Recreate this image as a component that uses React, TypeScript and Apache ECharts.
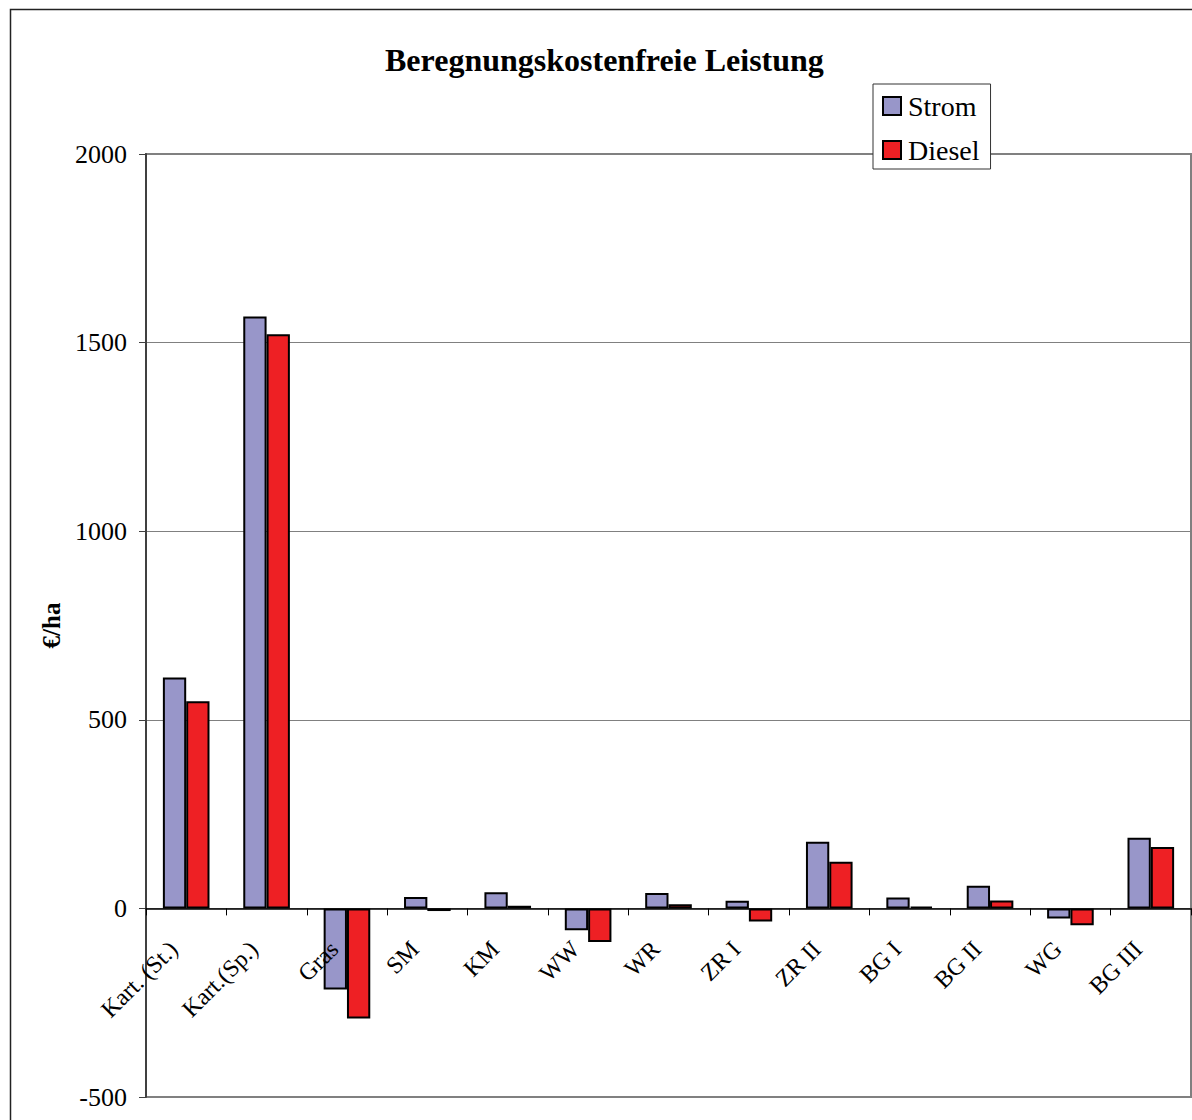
import React, { useEffect, useRef } from "react";
import * as echarts from "echarts";

// Crop / scenario categories along the x axis
const categories = [
  "Kart. (St.)",
  "Kart.(Sp.)",
  "Gras",
  "SM",
  "KM",
  "WW",
  "WR",
  "ZR I",
  "ZR II",
  "BG I",
  "BG II",
  "WG",
  "BG III",
];

// Irrigation-cost-free performance in €/ha, by energy source of the pump
const stromValues = [612, 1569, -215, 30, 43, -58, 41, 20, 177, 29, 60, -27, 187];
const dieselValues = [549, 1522, -292, -7, 7, -89, 11, -35, 124, 5, 21, -45, 163];

const yMin = -500;
const yMax = 2000;
const yStep = 500;

const FONT = '"Liberation Serif", "Times New Roman", serif';

// Plot area geometry
const GRID_TOP = 154;
const GRID_BOTTOM = 23;
const CHART_H = 1120;
const plotH = CHART_H - GRID_TOP - GRID_BOTTOM;
// Category axis sits on the value 0: shift it up from the plot bottom
const zeroOffset = -(plotH * (0 - yMin)) / (yMax - yMin);

export default function App() {
  const ref = useRef<HTMLDivElement>(null);

  useEffect(() => {
    document.body.style.margin = "0";
    if (!ref.current) return;
    const chart = echarts.init(ref.current, undefined, { renderer: "svg" });

    chart.setOption({
      animation: false,
      backgroundColor: "#ffffff",
      title: {
        text: "Beregnungskostenfreie Leistung",
        left: 385,
        top: 44,
        padding: 0,
        textStyle: {
          fontFamily: FONT,
          fontWeight: "bold",
          fontSize: 32,
          color: "#000",
        },
      },
      legend: {
        orient: "vertical",
        left: 873,
        top: 84,
        padding: [8, 11, 5, 9],
        itemWidth: 18,
        itemHeight: 18,
        itemGap: 16,
        backgroundColor: "#ffffff",
        borderColor: "#333333",
        borderWidth: 1,
        borderRadius: 0,
        icon: "rect",
        textStyle: { fontFamily: FONT, fontSize: 28, color: "#000", padding: [0, 0, 0, 2] },
        data: ["Strom", "Diesel"],
      },
      grid: {
        left: 146,
        right: 1,
        top: GRID_TOP,
        bottom: GRID_BOTTOM,
        containLabel: false,
        outerBoundsMode: "none",
        show: true,
        backgroundColor: "#ffffff",
        borderColor: "#808080",
        borderWidth: 2,
      },
      graphic: [
        {
          type: "rect",
          shape: { x: 10.5, y: 9.5, width: 1300, height: 1300 },
          style: { fill: "none", stroke: "#222", lineWidth: 1.5 },
          silent: true,
          z: -10,
        },
      ],
      xAxis: {
        type: "category",
        data: categories,
        position: "bottom",
        offset: zeroOffset,
        z: 5,
        axisLine: { onZero: false, lineStyle: { color: "#000", width: 1.5 } },
        axisTick: { show: true, length: 7, lineStyle: { color: "#000", width: 1 } },
        axisLabel: {
          interval: 0,
          rotate: 45,
          margin: 24,
          padding: [0, 18, 0, 0],
          fontFamily: FONT,
          fontSize: 24,
          color: "#000",
        },
        splitLine: { show: false },
      },
      yAxis: {
        type: "value",
        min: yMin,
        max: yMax,
        interval: yStep,
        name: "€/ha",
        nameLocation: "middle",
        nameGap: 82,
        nameTextStyle: {
          fontFamily: FONT,
          fontWeight: "bold",
          fontSize: 25,
          color: "#000",
        },
        axisLine: { show: true, onZero: false, lineStyle: { color: "#404040", width: 2 } },
        axisTick: { show: true, length: 7, lineStyle: { color: "#404040", width: 1 } },
        axisLabel: {
          margin: 19,
          fontFamily: FONT,
          fontSize: 26,
          color: "#000",
          formatter: (v: number) => String(v),
        },
        splitLine: { show: true, lineStyle: { color: "#808080", width: 1 } },
      },
      series: [
        {
          name: "Strom",
          type: "bar",
          data: stromValues,
          barWidth: "29%",
          barGap: "0%",
          itemStyle: { color: "#9896c9", borderColor: "#000", borderWidth: 2 },
        },
        {
          name: "Diesel",
          type: "bar",
          data: dieselValues,
          barWidth: "29%",
          barGap: "0%",
          itemStyle: { color: "#ee2024", borderColor: "#000", borderWidth: 2 },
        },
      ],
    });

    return () => chart.dispose();
  }, []);

  return <div ref={ref} style={{ width: 1192, height: 1120 }} />;
}
